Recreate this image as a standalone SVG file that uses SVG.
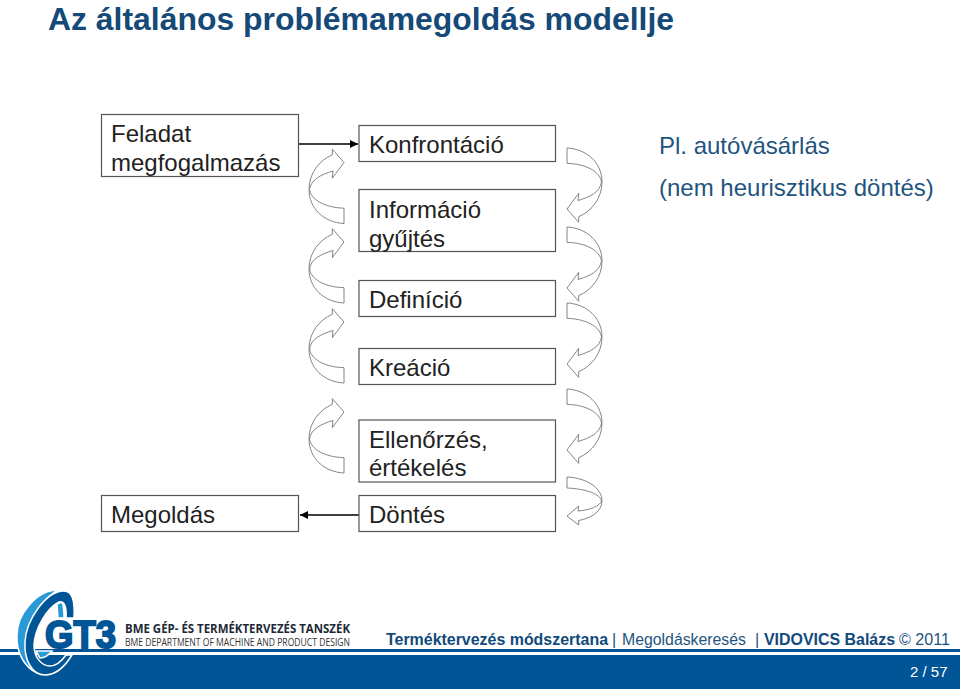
<svg xmlns="http://www.w3.org/2000/svg" width="960" height="689" viewBox="0 0 960 689">
<style>
text{font-family:"Liberation Sans",Arial,sans-serif}
.t{font-size:24px;fill:#222}
.b{fill:#fff;stroke:#555;stroke-width:1.2}
.c{fill:none;stroke:#777;stroke-width:.9}
.f{font-size:16px;fill:#1f5480}
.fb{font-weight:bold;fill:#124a7c}
.p{font-size:24px;fill:#1f5480}
</style>
<defs>
<path id="ca" d="M0,0C20,1 35,15 35,34C35,50 25,63 11.7,68.7L11.7,74.3L0,61L11.7,45.3L11,52.5C23,49 33,44 34.5,34C33,24 20,16 0,15.3Z"/>
<path id="cs" d="M0,0C20,1 35,11 35,24C35,34 25,41 11.7,43.5L11.7,48L0,39L11.7,29L11,34C23,33 33,29 34.5,24C33,17 20,12 0,11Z"/>
<marker id="ah" markerWidth="10" markerHeight="8" refX="8" refY="4" orient="auto" markerUnits="userSpaceOnUse"><path d="M0,0L8,4L0,8Z" fill="#000"/></marker>
</defs>
<rect width="960" height="689" fill="#fff"/>
<text x="48" y="30" font-size="32" font-weight="bold" fill="#154a78" textLength="626" lengthAdjust="spacingAndGlyphs">Az általános problémamegoldás modellje</text>
<g id="connectors">
<path d="M299,144H358" stroke="#000" stroke-width="1.3" marker-end="url(#ah)"/>
<path d="M359,515H300" stroke="#000" stroke-width="1.3" marker-end="url(#ah)"/>
<g class="c">
<use href="#ca" x="567" y="148"/><use href="#ca" x="567" y="227"/><use href="#ca" x="567" y="303"/><use href="#ca" x="567" y="389"/><use href="#cs" x="567" y="477"/>
<use href="#ca" transform="translate(344,223.5) rotate(180)"/><use href="#ca" transform="translate(344,303) rotate(180)"/><use href="#ca" transform="translate(344,383) rotate(180)"/><use href="#ca" transform="translate(344,473) rotate(180)"/>
</g>
</g>
<g id="feladat"><rect class="b" x="101.500" y="114.500" width="197" height="62"/><text class="t" x="111" y="142">Feladat</text><text class="t" x="111" y="171">megfogalmazás</text></g>
<g id="megoldas"><rect class="b" x="101.500" y="495.500" width="197" height="36"/><text class="t" x="111" y="523">Megoldás</text></g>
<g id="konfrontacio"><rect class="b" x="359" y="125.500" width="196.500" height="36"/><text class="t" x="369" y="153">Konfrontáció</text></g>
<g id="informacio"><rect class="b" x="359" y="189.500" width="196.500" height="62"/><text class="t" x="369" y="218">Információ</text><text class="t" x="369" y="247">gyűjtés</text></g>
<g id="definicio"><rect class="b" x="359" y="280.500" width="196.500" height="36"/><text class="t" x="369" y="308">Definíció</text></g>
<g id="kreacio"><rect class="b" x="359" y="348.500" width="196.500" height="36"/><text class="t" x="369" y="376">Kreáció</text></g>
<g id="ellenorzes"><rect class="b" x="359" y="420" width="196.500" height="62"/><text class="t" x="369" y="448">Ellenőrzés,</text><text class="t" x="369" y="476">értékelés</text></g>
<g id="dontes"><rect class="b" x="359" y="495.500" width="196.500" height="36"/><text class="t" x="369" y="523">Döntés</text></g>
<text class="p" x="659" y="154">Pl. autóvásárlás</text>
<text class="p" x="659" y="196">(nem heurisztikus döntés)</text>
<rect y="649" width="960" height="3" fill="#005596"/>
<rect y="655" width="960" height="34" fill="#005596"/>
<g stroke="#fff" stroke-width="1.500">
<path fill="#2a9ad6" d="M58,590C36,590 17,615 17,635C16,652 24,667 37,673C29,655 28,640 32,625C36,610 46,597 58,590Z"/>
<path fill="#2a9ad6" d="M57,604L62,602C64,606 64,612 64,618L58,618Z"/>
<path fill="#2a9ad6" d="M36,651L52,651C48,656 44,658 40,658Z"/>
<path fill="#005596" d="M64,591C72,591 75,600 74,618L66,618C67,606 64,601 59,602C47,608 35,628 34,645C34,658 42,666 50,666C56,666 61,662 66,655L72,655C64,668 54,675 45,675C32,675 24,660 25,642C26,620 46,591 64,591Z"/>
</g>
<text x="45" y="648" font-size="39" font-weight="bold" fill="#005596" stroke="#005596" stroke-width="2" textLength="71" lengthAdjust="spacingAndGlyphs">GT3</text>
<text x="125" y="632.500" font-size="13" font-weight="bold" fill="#1d2a36" textLength="225" lengthAdjust="spacingAndGlyphs" style="font-family:'Open Sans',sans-serif">BME GÉP- ÉS TERMÉKTERVEZÉS TANSZÉK</text>
<text x="125" y="646" font-size="11.500" fill="#333" textLength="225" lengthAdjust="spacingAndGlyphs" style="font-family:'Open Sans',sans-serif">BME DEPARTMENT OF MACHINE AND PRODUCT DESIGN</text>
<text class="f fb" x="386" y="645" textLength="222" lengthAdjust="spacingAndGlyphs">Terméktervezés módszertana</text>
<text class="f" x="612" y="645">|</text>
<text class="f" x="622" y="645" textLength="124" lengthAdjust="spacingAndGlyphs">Megoldáskeresés</text>
<text class="f" x="755" y="645">|</text>
<text class="f fb" x="764" y="645" textLength="131" lengthAdjust="spacingAndGlyphs">VIDOVICS Balázs</text>
<text class="f" x="899" y="645" textLength="51" lengthAdjust="spacingAndGlyphs">© 2011</text>
<text x="910" y="677" font-size="15" fill="#fff">2 / 57</text>
</svg>
